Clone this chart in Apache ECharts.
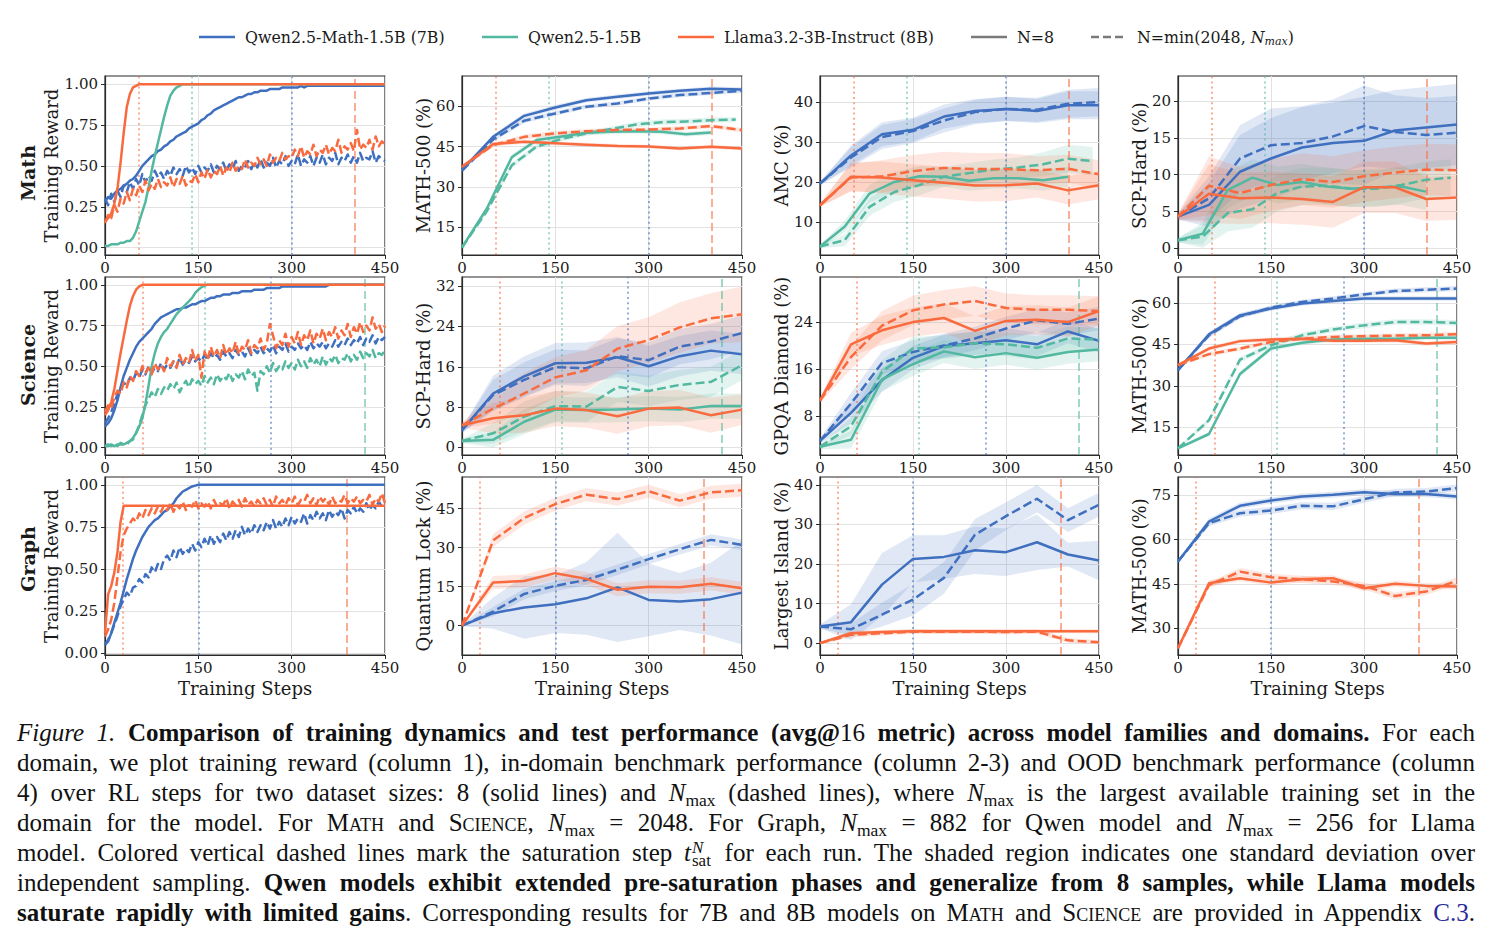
<!DOCTYPE html>
<html><head><meta charset="utf-8">
<script src="https://cdn.jsdelivr.net/npm/echarts@6/dist/echarts.min.js"></script>
<style>
html,body{margin:0;padding:0;background:#fff;width:1492px;height:943px;overflow:hidden}
#chart{position:absolute;left:0;top:0;width:1492px;height:705px}
#cap{position:absolute;left:17px;top:718px;width:1458px;font-family:'Liberation Serif','Times New Roman',serif;font-size:25px;color:#111}
#cap .l{height:30px;line-height:30px;white-space:nowrap}
#cap sub{font-size:0.7em;vertical-align:-0.28em;line-height:0}
.sc{font-variant:small-caps}
.ss{display:inline-block;white-space:pre-line;font-size:0.68em;line-height:0.8;vertical-align:-0.3em;text-align:left;margin-left:1px;margin-right:1px}
.ss::first-line{font-style:italic}
</style>
</head><body>
<div id="chart"></div>
<div id="cap">
<div class="l"><span><i>Figure 1.</i> <b>Comparison of training dynamics and test performance (avg@</b>16 <b>metric) across model families and domains.</b> For each</span></div>
<div class="l"><span>domain, we plot training reward (column 1), in-domain benchmark performance (column 2-3) and OOD benchmark performance (column</span></div>
<div class="l"><span>4) over RL steps for two dataset sizes: 8 (solid lines) and <i>N</i><sub>max</sub> (dashed lines), where <i>N</i><sub>max</sub> is the largest available training set in the</span></div>
<div class="l"><span>domain for the model. For <span class="sc">Math</span> and <span class="sc">Science</span>, <i>N</i><sub>max</sub> = 2048. For Graph, <i>N</i><sub>max</sub> = 882 for Qwen model and <i>N</i><sub>max</sub> = 256 for Llama</span></div>
<div class="l"><span>model. Colored vertical dashed lines mark the saturation step <i>t</i><span class="ss">N
sat</span> for each run. The shaded region indicates one standard deviation over</span></div>
<div class="l"><span>independent sampling. <b>Qwen models exhibit extended pre-saturation phases and generalize from 8 samples, while Llama models</b></span></div>
<div class="l"><span><b>saturate rapidly with limited gains</b>. Corresponding results for 7B and 8B models on <span class="sc">Math</span> and <span class="sc">Science</span> are provided in Appendix <span style="color:#2a2a9a">C.3</span>.</span></div>
</div>
<script>
// ---------------- DATA ----------------
const STEPS5 = [0,5,10,15,20,25,30,35,40,45,50,55,60,65,70,75,80,85,90,95,100,105,110,115,120,125,130,135,140,145,150,155,160,165,170,175,180,185,190,195,200,205,210,215,220,225,230,235,240,245,250,255,260,265,270,275,280,285,290,295,300,305,310,315,320,325,330,335,340,345,350,355,360,365,370,375,380,385,390,395,400,405,410,415,420,425,430,435,440,445,450];
const STEPS50 = [0,50,100,150,200,250,300,350,400,450];
const STEPS40 = [0,40,80,120,160,200,240,280,320,360,400,440];

// tick labels
const TICKS_REWARD = [0,0.25,0.5,0.75,1];
const TICKS_M5_A = [15,30,45,60];
const TICKS_AMC = [10,20,30,40];
const TICKS_SCP_A = [0,5,10,15,20];
const TICKS_SCP_B = [0,8,16,24,32];
const TICKS_GPQA = [8,16,24];
const TICKS_M5_B = [15,30,45,60];
const TICKS_QL = [0,15,30,45];
const TICKS_LI = [0,10,20,30,40];
const TICKS_M5_C = [30,45,60,75];
const TICKS_X = [0,150,300,450];

// ---- Math: training reward ----
const math_tr_qm8 = [0.28,0.31,0.30,0.33,0.35,0.36,0.38,0.39,0.41,0.42,
0.44,0.47,0.50,0.52,0.54,0.56,0.57,0.59,0.60,0.62,
0.63,0.65,0.66,0.68,0.69,0.70,0.71,0.73,0.74,0.75,
0.76,0.78,0.79,0.81,0.82,0.84,0.85,0.86,0.87,0.88,
0.89,0.90,0.91,0.92,0.92,0.93,0.94,0.94,0.95,0.95,
0.96,0.96,0.96,0.97,0.97,0.97,0.97,0.98,0.98,0.98,
0.98,0.98,0.98,0.99,0.98,0.99,0.99,0.99,0.99,0.99,
0.99,0.99,0.99,0.99,0.99,0.99,0.99,0.99,0.99,0.99,
0.99,0.99,0.99,0.99,0.99,0.99,0.99,0.99,0.99,0.99,
0.99];
const math_tr_qmN = [0.30,0.26,0.33,0.28,0.35,0.31,0.38,0.34,0.40,0.36,
0.42,0.38,0.45,0.40,0.44,0.41,0.47,0.43,0.46,0.42,
0.47,0.44,0.49,0.45,0.48,0.44,0.50,0.46,0.49,0.45,
0.50,0.46,0.49,0.47,0.51,0.46,0.50,0.48,0.52,0.47,
0.51,0.48,0.53,0.47,0.50,0.49,0.53,0.48,0.52,0.49,
0.54,0.49,0.52,0.50,0.55,0.49,0.53,0.51,0.56,0.50,
0.53,0.51,0.57,0.50,0.54,0.52,0.56,0.50,0.55,0.52,
0.57,0.51,0.55,0.53,0.58,0.51,0.55,0.53,0.57,0.52,
0.56,0.52,0.58,0.53,0.55,0.54,0.59,0.52,0.56,0.54,
0.53];
const math_tr_q8 = [0.01,0.01,0.02,0.02,0.02,0.03,0.03,0.04,0.04,0.06,
0.10,0.16,0.22,0.28,0.37,0.47,0.56,0.64,0.72,0.80,
0.87,0.93,0.96,0.98,0.99,1,1,1,1,1,
1,1,1,1,1,1,1,1,1,1,
1,1,1,1,1,1,1,1,1,1,
1,1,1,1,1,1,1,1,1,1,
1,1,1,1,1,1,1,1,1,1,
1,1,1,1,1,1,1,1,1,1,
1,1,1,1,1,1,1,1,1,1,
1];
const math_tr_l8 = [0.16,0.18,0.21,0.27,0.36,0.52,0.70,0.86,0.94,0.98,
0.99,1,1,1,1,1,1,1,1,1,
1,1,1,1,1,1,1,1,1,1,
1,1,1,1,1,1,1,1,1,1,
1,1,1,1,1,1,1,1,1,1,
1,1,1,1,1,1,1,1,1,1,
1,1,1,1,1,1,1,1,1,1,
1,1,1,1,1,1,1,1,1,1,
1,1,1,1,1,1,1,1,1,1,
1];
const math_tr_lN = [0.15,0.20,0.18,0.26,0.22,0.30,0.27,0.34,0.29,0.36,
0.32,0.38,0.34,0.41,0.35,0.39,0.36,0.42,0.37,0.40,
0.38,0.43,0.37,0.42,0.39,0.44,0.38,0.41,0.40,0.45,
0.40,0.46,0.42,0.48,0.43,0.47,0.45,0.50,0.44,0.49,
0.46,0.52,0.47,0.50,0.48,0.54,0.49,0.52,0.50,0.55,
0.51,0.54,0.50,0.57,0.52,0.55,0.53,0.58,0.54,0.56,
0.55,0.60,0.56,0.62,0.55,0.59,0.57,0.63,0.56,0.60,
0.58,0.63,0.57,0.61,0.59,0.66,0.58,0.62,0.60,0.64,
0.59,0.72,0.60,0.63,0.61,0.66,0.60,0.68,0.62,0.65,
0.63];

// ---- Math: MATH-500 ----
const m5a_qm8 = [36.3,48.6,56.4,59.5,62.2,63.5,64.7,65.7,66.5,66.2];
const m5a_qmN = [36.0,47.6,54.6,57.3,59.8,61.0,62.8,64.1,64.9,65.7];
const m5a_q8 = [7.5,22.0,41.0,47.4,48.7,50.1,50.5,50.7,50.5,49.6,50.2];
const m5a_qN = [7.5,21.0,38.0,45.0,47.8,49.9,51.5,53.2,54.0,54.3,54.8,55.0];
const m5a_l8 = [37.5,45.9,46.8,46.2,45.7,45.2,45.0,44.3,44.9,44.3];
const m5a_lN = [37.5,45.5,48.6,49.9,50.7,51.1,51.3,51.7,52.6,51.1];
const m5a_qm8_sd = [0.5,0.9,0.9,0.9,0.8,0.8,0.8,0.8,0.8,0.8];
const m5a_qmN_sd = [0.5,0.9,0.9,0.9,0.8,0.8,0.8,0.8,0.8,0.8];
const m5a_q8_sd = [0.4,0.9,1.0,1.0,0.9,0.9,0.9,0.9,0.9,0.9,0.9];
const m5a_qN_sd = [0.4,0.9,1.0,1.0,0.9,0.9,0.9,1.0,1.0,1.0,1.0,1.0];
const m5a_l8_sd = [0.5,0.8,0.8,0.7,0.7,0.7,0.7,0.7,0.7,0.7];
const m5a_lN_sd = [0.5,0.8,0.9,0.9,0.8,0.8,0.8,0.8,0.8,0.8];

// ---- Math: AMC ----
const amc_qm8 = [19.7,26.7,32.0,33.1,36.4,37.8,38.3,37.8,39.2,39.2];
const amc_qmN = [19.7,26.2,31.3,32.8,35.4,37.5,38.3,38.1,39.6,40.0];
const amc_q8 = [4.0,9.0,17.2,20.1,21.5,21.4,20.4,21.0,21.0,20.5,21.4];
const amc_qN = [4.0,5.6,13.9,17.6,19.3,21.4,22.3,23.2,23.7,24.5,25.9,25.3];
const amc_l8 = [14.3,21.4,21.2,20.5,19.9,19.2,19.3,19.7,18.0,19.3];
const amc_lN = [14.3,21.2,21.5,22.8,23.6,23.3,23.3,23.0,23.4,22.0];
const amc_qm8_sd = [0.4,2.5,3.0,3.0,3.0,3.0,3.0,3.0,3.5,3.5];
const amc_qmN_sd = [0.4,2.5,3.0,3.0,3.0,3.0,3.0,3.0,3.5,3.5];
const amc_q8_sd = [0.4,1.5,2.2,2.5,2.5,2.5,2.5,2.5,2.5,2.5,2.5];
const amc_qN_sd = [0.4,1.5,2.2,2.5,2.5,2.5,2.5,2.5,2.5,3.0,3.5,3.5];
const amc_l8_sd = [0.4,3.5,4.0,4.0,4.0,4.0,4.0,3.5,3.5,3.5];
const amc_lN_sd = [0.4,3.5,4.0,4.0,4.0,4.0,4.0,3.5,3.5,3.5];

// ---- Math: SCP-Hard ----
const scpa_qm8 = [4.3,5.9,10.4,12.2,13.7,14.3,14.6,16.0,16.4,16.8];
const scpa_qmN = [4.3,6.8,12.2,14.0,14.3,15.2,16.6,15.8,15.4,15.7];
const scpa_q8 = [1.1,2.0,7.9,9.6,8.6,9.0,8.4,8.1,8.3,8.4,7.7];
const scpa_qN = [1.1,1.6,4.8,5.3,7.5,8.4,8.5,8.1,8.1,8.6,9.3,9.6];
const scpa_l8 = [4.3,7.4,6.8,6.9,6.7,6.3,8.3,8.3,6.7,6.9];
const scpa_lN = [4.3,8.5,7.5,8.6,9.4,9.0,9.8,10.3,10.7,10.6];
const scpa_qm8_sd = [0.4,3.0,5.0,5.5,5.5,5.5,6.0,5.5,5.5,5.5];
const scpa_qmN_sd = [0.4,3.0,4.5,5.0,5.0,5.0,5.5,5.0,5.0,5.0];
const scpa_q8_sd = [0.3,1.5,2.5,2.5,2.5,2.5,2.5,2.5,2.5,2.5,2.5];
const scpa_qN_sd = [0.3,1.5,2.5,2.5,2.5,2.5,2.5,2.5,2.5,2.5,2.5,2.5];
const scpa_l8_sd = [0.4,4.0,3.5,3.5,3.5,3.5,3.5,3.5,3.0,3.0];
const scpa_lN_sd = [0.4,4.0,3.5,3.5,3.5,3.5,3.5,3.5,3.5,3.5];

// ---- Science: training reward ----
const sci_tr_qm8 = [0.13,0.15,0.18,0.23,0.29,0.37,0.44,0.49,0.54,0.58,
0.62,0.65,0.67,0.69,0.71,0.73,0.76,0.78,0.80,0.81,
0.82,0.83,0.84,0.85,0.85,0.86,0.86,0.87,0.88,0.88,
0.89,0.90,0.90,0.91,0.92,0.92,0.93,0.93,0.94,0.94,
0.94,0.95,0.95,0.95,0.96,0.96,0.96,0.96,0.97,0.97,
0.97,0.97,0.98,0.98,0.98,0.98,0.98,0.99,0.99,0.99,
0.99,0.99,0.99,0.99,0.99,0.99,0.99,0.99,0.99,0.99,
0.99,0.99,1,1,1,1,1,1,1,1,
1,1,1,1,1,1,1,1,1,1,
1];
const sci_tr_qmN = [0.15,0.18,0.22,0.27,0.33,0.36,0.40,0.38,0.43,0.41,
0.46,0.43,0.48,0.45,0.50,0.46,0.49,0.47,0.52,0.48,
0.51,0.49,0.53,0.50,0.55,0.51,0.54,0.52,0.56,0.53,
0.55,0.53,0.57,0.54,0.58,0.55,0.57,0.54,0.59,0.56,
0.58,0.55,0.60,0.57,0.59,0.56,0.61,0.57,0.60,0.58,
0.62,0.58,0.61,0.59,0.63,0.58,0.62,0.60,0.64,0.59,
0.62,0.60,0.64,0.61,0.63,0.60,0.65,0.61,0.64,0.62,
0.65,0.61,0.64,0.62,0.66,0.62,0.65,0.63,0.67,0.63,
0.66,0.64,0.68,0.63,0.67,0.65,0.69,0.64,0.68,0.66,
0.68];
const sci_tr_q8 = [0.01,0.01,0.02,0.01,0.02,0.02,0.02,0.03,0.04,0.06,
0.09,0.13,0.18,0.27,0.38,0.50,0.58,0.64,0.68,0.71,
0.73,0.76,0.79,0.82,0.84,0.86,0.88,0.90,0.92,0.95,
0.97,0.985,0.995,1,1,1,1,1,1,1,
1,1,1,1,1,1,1,1,1,1,
1,1,1,1,1,1,1,1,1,1,
1,1,1,1,1,1,1,1,1,1,
1,1,1,1,1,1,1,1,1,1,
1,1,1,1,1,1,1,1,1,1,
1];
const sci_tr_qN = [0.01,0.02,0.01,0.02,0.01,0.03,0.02,0.02,0.04,0.05,
0.09,0.14,0.20,0.26,0.30,0.34,0.31,0.36,0.33,0.37,
0.35,0.39,0.36,0.40,0.34,0.38,0.41,0.37,0.42,0.39,
0.41,0.38,0.44,0.40,0.43,0.39,0.45,0.41,0.44,0.42,
0.46,0.41,0.45,0.43,0.47,0.42,0.48,0.44,0.46,0.35,
0.47,0.45,0.50,0.46,0.52,0.47,0.50,0.48,0.53,0.49,
0.52,0.48,0.54,0.50,0.53,0.49,0.55,0.51,0.54,0.50,
0.56,0.51,0.55,0.53,0.57,0.52,0.55,0.54,0.58,0.53,
0.57,0.54,0.59,0.55,0.58,0.56,0.60,0.55,0.58,0.57,
0.60];
const sci_tr_l8 = [0.20,0.23,0.28,0.36,0.47,0.58,0.68,0.78,0.87,0.93,
0.97,0.99,1,1,1,1,1,1,1,1,
1,1,1,1,1,1,1,1,1,1,
1,1,1,1,1,1,1,1,1,1,
1,1,1,1,1,1,1,1,1,1,
1,1,1,1,1,1,1,1,1,1,
1,1,1,1,1,1,1,1,1,1,
1,1,1,1,1,1,1,1,1,1,
1,1,1,1,1,1,1,1,1,1,
1];
const sci_tr_lN = [0.22,0.26,0.24,0.31,0.35,0.33,0.40,0.37,0.44,0.41,
0.47,0.44,0.50,0.46,0.49,0.45,0.52,0.48,0.51,0.47,
0.55,0.50,0.53,0.49,0.57,0.51,0.55,0.52,0.60,0.53,
0.57,0.43,0.59,0.54,0.62,0.56,0.60,0.55,0.63,0.57,
0.61,0.58,0.65,0.57,0.62,0.60,0.66,0.58,0.63,0.61,
0.67,0.60,0.64,0.76,0.69,0.61,0.66,0.63,0.70,0.62,
0.68,0.64,0.71,0.63,0.69,0.66,0.72,0.64,0.70,0.67,
0.73,0.66,0.71,0.68,0.74,0.67,0.72,0.69,0.76,0.68,
0.74,0.70,0.77,0.71,0.75,0.72,0.80,0.73,0.76,0.71,
0.75];

// ---- Science: SCP-Hard ----
const scpb_qm8 = [3.4,10.7,14.1,16.7,16.8,17.9,16.1,18.1,19.2,18.5];
const scpb_qmN = [3.4,10.4,13.4,15.9,15.7,18.1,17.3,20.0,21.0,22.7];
const scpb_q8 = [1.3,1.5,5.1,7.5,7.4,7.5,7.7,7.5,8.2,8.2];
const scpb_qN = [1.3,2.8,6.1,8.2,8.1,12.0,11.2,12.4,13.0,16.3];
const scpb_l8 = [4.4,5.8,6.4,7.7,7.4,6.2,7.7,7.9,6.4,7.5];
const scpb_lN = [4.4,7.7,10.7,13.9,15.3,19.6,21.3,23.8,25.6,26.4];
const scpb_qm8_sd = [0.5,3.5,4.0,4.0,4.0,4.0,4.0,4.0,4.0,4.0];
const scpb_qmN_sd = [0.5,3.0,3.5,3.5,3.5,3.5,3.5,3.5,3.5,3.5];
const scpb_q8_sd = [0.4,1.5,2.5,2.5,2.5,2.5,2.5,2.5,2.5,2.5];
const scpb_qN_sd = [0.4,2.0,3.0,3.0,3.0,3.0,3.0,3.0,3.0,3.0];
const scpb_l8_sd = [0.5,3.0,3.5,3.5,3.5,3.5,3.5,3.5,3.5,3.0];
const scpb_lN_sd = [0.5,3.0,4.0,4.0,4.0,4.5,4.5,5.0,5.0,5.5];

// ---- Science: GPQA Diamond ----
const gpqa_qm8 = [3.7,8.5,14.1,17.9,19.9,20.4,20.9,20.2,22.4,20.8];
const gpqa_qmN = [3.7,10.1,17.0,18.9,20.0,21.2,22.9,24.3,23.7,24.6];
const gpqa_q8 = [2.7,3.9,14.2,16.8,19.0,18.0,18.7,17.9,18.9,19.3];
const gpqa_qN = [2.7,6.2,15.5,19.5,19.7,20.4,20.2,19.6,21.2,21.0];
const gpqa_l8 = [10.6,20.2,22.6,24.0,24.7,22.5,24.2,24.4,24.0,25.9];
const gpqa_lN = [10.6,18.0,23.4,26.0,27.0,27.6,26.4,26.1,26.1,25.9];
const gpqa_qm8_sd = [0.4,1.8,2.0,2.0,2.0,2.0,2.0,2.0,2.0,2.0];
const gpqa_qmN_sd = [0.4,1.8,2.0,2.0,2.0,2.0,2.0,2.0,2.0,2.0];
const gpqa_q8_sd = [0.4,1.5,2.0,2.0,2.0,2.0,2.0,2.0,2.0,2.0];
const gpqa_qN_sd = [0.4,1.5,2.0,2.0,2.0,2.0,2.0,2.0,2.0,2.0];
const gpqa_l8_sd = [0.4,2.0,2.5,2.5,2.5,2.5,2.5,2.5,2.5,2.5];
const gpqa_lN_sd = [0.4,2.0,2.5,2.5,2.5,2.5,2.5,2.5,2.5,2.5];

// ---- Science: MATH-500 ----
const m5b_qm8 = [35.7,48.7,55.5,58.0,59.8,60.7,61.6,61.6,61.6,61.6];
const m5b_qmN = [35.7,48.3,55.2,58.3,60.4,61.6,63.1,64.3,64.8,65.2];
const m5b_q8 = [7.4,12.6,34.3,43.5,45.6,46.8,47.1,47.1,47.4,47.4];
const m5b_qN = [7.4,17.6,39.5,44.7,48.3,50.4,51.9,53.1,53.1,52.8];
const m5b_l8 = [37.5,43.5,46.2,46.8,47.1,46.3,46.3,46.5,45.3,45.9];
const m5b_lN = [37.5,41.5,43.5,45.9,47.1,47.7,48.0,48.2,48.3,48.7];
const m5b_qm8_sd = [0.5,0.9,0.9,0.8,0.8,0.8,0.8,0.8,0.8,0.8];
const m5b_qmN_sd = [0.5,0.9,0.9,0.8,0.8,0.8,0.8,0.9,0.9,0.9];
const m5b_q8_sd = [0.4,0.8,1.0,0.9,0.8,0.8,0.8,0.8,0.8,0.8];
const m5b_qN_sd = [0.4,1.0,1.0,1.0,1.0,1.0,1.0,1.0,1.0,1.0];
const m5b_l8_sd = [0.5,0.8,0.8,0.8,0.8,0.8,0.8,0.8,0.8,0.8];
const m5b_lN_sd = [0.5,0.8,0.8,0.8,0.8,0.8,0.8,0.8,0.9,0.9];

// ---- Graph: training reward ----
const graph_tr_qm8 = [0.05,0.07,0.12,0.18,0.24,0.30,0.37,0.44,0.50,0.56,
0.61,0.65,0.69,0.72,0.75,0.77,0.79,0.80,0.82,0.84,
0.85,0.87,0.89,0.92,0.94,0.96,0.97,0.98,0.99,0.995,
1,1,1,1,1,1,1,1,1,1,
1,1,1,1,1,1,1,1,1,1,
1,1,1,1,1,1,1,1,1,1,
1,1,1,1,1,1,1,1,1,1,
1,1,1,1,1,1,1,1,1,1,
1,1,1,1,1,1,1,1,1,1,
1];
const graph_tr_qmN = [0.05,0.08,0.12,0.17,0.22,0.28,0.32,0.36,0.34,0.39,
0.40,0.44,0.42,0.47,0.45,0.51,0.48,0.53,0.50,0.56,
0.58,0.55,0.61,0.57,0.63,0.59,0.62,0.60,0.65,0.61,
0.66,0.63,0.68,0.64,0.70,0.65,0.69,0.66,0.71,0.67,
0.72,0.68,0.73,0.69,0.75,0.70,0.74,0.71,0.76,0.72,
0.76,0.73,0.78,0.74,0.79,0.74,0.78,0.75,0.80,0.76,
0.81,0.77,0.80,0.78,0.83,0.77,0.82,0.79,0.84,0.80,
0.83,0.79,0.85,0.81,0.84,0.82,0.86,0.80,0.85,0.83,
0.87,0.83,0.86,0.84,0.89,0.85,0.88,0.86,0.90,0.87,
0.88];
const graph_tr_l8 = [0.12,0.35,0.40,0.48,0.60,0.78,0.875,0.875,0.875,0.875,
0.875,0.875,0.875,0.875,0.875,0.875,0.875,0.875,0.875,0.875,
0.875,0.875,0.875,0.875,0.875,0.875,0.875,0.875,0.875,0.875,
0.875,0.875,0.875,0.875,0.875,0.875,0.875,0.875,0.875,0.875,
0.875,0.875,0.875,0.875,0.875,0.875,0.875,0.875,0.875,0.875,
0.875,0.875,0.875,0.875,0.875,0.875,0.875,0.875,0.875,0.875,
0.875,0.875,0.875,0.875,0.875,0.875,0.875,0.875,0.875,0.875,
0.875,0.875,0.875,0.875,0.875,0.875,0.875,0.875,0.875,0.875,
0.875,0.875,0.875,0.875,0.875,0.875,0.875,0.875,0.875,0.875,
0.875];
const graph_tr_lN = [0.10,0.14,0.20,0.30,0.45,0.60,0.70,0.74,0.77,0.80,
0.78,0.83,0.80,0.85,0.82,0.86,0.83,0.87,0.84,0.88,
0.85,0.89,0.84,0.88,0.86,0.90,0.85,0.88,0.87,0.91,
0.86,0.89,0.87,0.90,0.86,0.91,0.87,0.89,0.88,0.92,
0.86,0.90,0.88,0.91,0.87,0.92,0.88,0.90,0.87,0.91,
0.89,0.92,0.88,0.91,0.87,0.93,0.89,0.91,0.88,0.92,
0.89,0.93,0.88,0.91,0.90,0.94,0.89,0.92,0.88,0.93,
0.90,0.92,0.88,0.93,0.89,0.91,0.90,0.94,0.89,0.92,
0.90,0.93,0.89,0.91,0.90,0.94,0.88,0.92,0.90,0.95,
0.89];

// ---- Graph: Quantum Lock ----
const ql_qm8 = [0,4.8,7.0,8.2,10.5,14.7,9.9,9.3,10.2,12.7];
const ql_qmN = [0,5.4,12.2,15.3,17.6,21.5,25.6,29.4,33.0,31.1];
const ql_l8 = [0,16.6,17.2,20.2,18.0,13.8,15.0,14.8,16.1,14.4];
const ql_lN = [0,32.8,41.4,46.8,50.4,48.7,51.7,48.1,51.3,52.1];
const ql_qm8_sd = [0.2,6,12,11,14,21,14,11,14,20];
const ql_qmN_sd = [0.2,1.8,2,2,2,2,2,2,2.2,2];
const ql_l8_sd = [0.2,2.5,2.5,2.5,2.5,2.5,2.5,2.5,2.5,2.5];
const ql_lN_sd = [0.2,2.5,2.5,2.5,2.5,2.5,2.5,2.5,2.5,2.5];

// ---- Graph: Largest Island ----
const li_qm8 = [4.2,5.3,14.8,21.3,21.8,23.5,23.0,25.5,22.4,20.9];
const li_qmN = [4.2,3.5,7.2,11.0,16.5,27.4,32.1,36.5,31.1,35.0];
const li_l8 = [0,2.5,2.8,3.0,3.0,3.0,3.0,3.0,3.0,3.0];
const li_lN = [0,2.1,2.5,2.9,2.9,2.9,2.8,2.9,0.7,0.2];
const li_qm8_sd = [0.5,4.5,8,6,5.5,6,6,7,3,5];
const li_qmN_sd = [0.5,1.5,3,4,4,4,3.5,3.5,3,3];
const li_l8_sd = [0.3,0.6,0.5,0.5,0.5,0.5,0.5,0.5,0.5,0.5];
const li_lN_sd = [0.3,0.7,0.6,0.6,0.6,0.6,0.6,0.6,0.6,0.5];

// ---- Graph: MATH-500 ----
const m5c_qm8 = [52.5,66.0,71.3,73.1,74.4,75.0,75.9,75.3,75.3,74.4];
const m5c_qmN = [52.5,65.4,68.8,69.7,71.3,71.1,73.5,75.8,76.1,77.3];
const m5c_l8 = [23.3,45.2,46.9,45.4,46.5,46.9,43.5,45.0,44.3,44.1];
const m5c_lN = [23.3,44.6,49.1,47.2,46.5,45.8,44.3,40.9,42.4,46.0];
const m5c_qm8_sd = [0.6,1.0,1.0,1.0,1.0,1.0,1.0,1.0,1.0,1.0];
const m5c_qmN_sd = [0.6,1.0,1.2,1.2,1.2,1.2,1.2,1.2,1.2,1.2];
const m5c_l8_sd = [0.6,1.0,1.0,1.0,1.0,1.0,1.0,1.0,1.0,1.0];
const m5c_lN_sd = [0.6,1.0,1.2,1.2,1.2,1.2,1.2,1.2,1.2,1.2];

// saturation steps (model, kind)
const sat_math_step = [55,140,300,402];
const sat_math_model = ['l','q','qm','l'];
const sat_math_kind = ['n8','n8','n8','nmax'];
const sat_sci_step = [60,160,267,418];
const sat_sci_model = ['l','q','qm','q'];
const sat_sci_kind = ['n8','n8','n8','nmax'];
const sat_graph_step = [28,150,388];
const sat_graph_model = ['l','qm','l'];
const sat_graph_kind = ['n8','n8','nmax'];

// ---------------- STYLE / LAYOUT ----------------
const COL = {qm:[63,111,191], q:[82,184,159], l:[249,106,62]};
const rgba = (m,a)=>`rgba(${COL[m][0]},${COL[m][1]},${COL[m][2]},${a})`;
const FONT = "'DejaVu Serif', serif";
const TXT = '#1a1a1a';
const AX = '#2b2b2b';
const GX = [105,462,820,1178], GW = [280,280,279,279];
const GY = [76,277,477], GH = [179,178,178];

const L = (m,d,x,y,sd)=>({m,d,x,y,sd});
const sat = (s,m,k)=>s.map((v,i)=>({x:v,m:m[i],k:k[i]}));
const SAT = [sat(sat_math_step,sat_math_model,sat_math_kind), sat(sat_sci_step,sat_sci_model,sat_sci_kind), sat(sat_graph_step,sat_graph_model,sat_graph_kind)];

const PANELS = [
 {name:'Training Reward', min:-0.045, max:1.05, ticks:TICKS_REWARD, dec:2, lines:[L('qm',0,STEPS5,math_tr_qm8),L('qm',1,STEPS5,math_tr_qmN),L('q',0,STEPS5,math_tr_q8),L('l',0,STEPS5,math_tr_l8),L('l',1,STEPS5,math_tr_lN)]},
 {name:'MATH-500 (%)', min:4.7, max:71.2, ticks:TICKS_M5_A, lines:[L('qm',0,STEPS50,m5a_qm8,m5a_qm8_sd),L('qm',1,STEPS50,m5a_qmN,m5a_qmN_sd),L('q',0,STEPS40,m5a_q8,m5a_q8_sd),L('q',1,STEPS40,m5a_qN,m5a_qN_sd),L('l',0,STEPS50,m5a_l8,m5a_l8_sd),L('l',1,STEPS50,m5a_lN,m5a_lN_sd)]},
 {name:'AMC (%)', min:1.9, max:46.5, ticks:TICKS_AMC, lines:[L('qm',0,STEPS50,amc_qm8,amc_qm8_sd),L('qm',1,STEPS50,amc_qmN,amc_qmN_sd),L('q',0,STEPS40,amc_q8,amc_q8_sd),L('q',1,STEPS40,amc_qN,amc_qN_sd),L('l',0,STEPS50,amc_l8,amc_l8_sd),L('l',1,STEPS50,amc_lN,amc_lN_sd)]},
 {name:'SCP-Hard (%)', min:-0.9, max:23.4, ticks:TICKS_SCP_A, lines:[L('qm',0,STEPS50,scpa_qm8,scpa_qm8_sd),L('qm',1,STEPS50,scpa_qmN,scpa_qmN_sd),L('q',0,STEPS40,scpa_q8,scpa_q8_sd),L('q',1,STEPS40,scpa_qN,scpa_qN_sd),L('l',0,STEPS50,scpa_l8,scpa_l8_sd),L('l',1,STEPS50,scpa_lN,scpa_lN_sd)]},
 {name:'Training Reward', min:-0.045, max:1.048, ticks:TICKS_REWARD, dec:2, lines:[L('qm',0,STEPS5,sci_tr_qm8),L('qm',1,STEPS5,sci_tr_qmN),L('q',0,STEPS5,sci_tr_q8),L('q',1,STEPS5,sci_tr_qN),L('l',0,STEPS5,sci_tr_l8),L('l',1,STEPS5,sci_tr_lN)]},
 {name:'SCP-Hard (%)', min:-1.5, max:33.8, ticks:TICKS_SCP_B, lines:[L('qm',0,STEPS50,scpb_qm8,scpb_qm8_sd),L('qm',1,STEPS50,scpb_qmN,scpb_qmN_sd),L('q',0,STEPS50,scpb_q8,scpb_q8_sd),L('q',1,STEPS50,scpb_qN,scpb_qN_sd),L('l',0,STEPS50,scpb_l8,scpb_l8_sd),L('l',1,STEPS50,scpb_lN,scpb_lN_sd)]},
 {name:'GPQA Diamond (%)', min:1.3, max:31.7, ticks:TICKS_GPQA, lines:[L('qm',0,STEPS50,gpqa_qm8,gpqa_qm8_sd),L('qm',1,STEPS50,gpqa_qmN,gpqa_qmN_sd),L('q',0,STEPS50,gpqa_q8,gpqa_q8_sd),L('q',1,STEPS50,gpqa_qN,gpqa_qN_sd),L('l',0,STEPS50,gpqa_l8,gpqa_l8_sd),L('l',1,STEPS50,gpqa_lN,gpqa_lN_sd)]},
 {name:'MATH-500 (%)', min:5, max:69.4, ticks:TICKS_M5_B, lines:[L('qm',0,STEPS50,m5b_qm8,m5b_qm8_sd),L('qm',1,STEPS50,m5b_qmN,m5b_qmN_sd),L('q',0,STEPS50,m5b_q8,m5b_q8_sd),L('q',1,STEPS50,m5b_qN,m5b_qN_sd),L('l',0,STEPS50,m5b_l8,m5b_l8_sd),L('l',1,STEPS50,m5b_lN,m5b_lN_sd)]},
 {name:'Training Reward', min:-0.01, max:1.046, ticks:TICKS_REWARD, dec:2, lines:[L('qm',0,STEPS5,graph_tr_qm8),L('qm',1,STEPS5,graph_tr_qmN),L('l',0,STEPS5,graph_tr_l8),L('l',1,STEPS5,graph_tr_lN)]},
 {name:'Quantum Lock (%)', min:-11.3, max:57.2, ticks:TICKS_QL, lines:[L('qm',0,STEPS50,ql_qm8,ql_qm8_sd),L('qm',1,STEPS50,ql_qmN,ql_qmN_sd),L('l',0,STEPS50,ql_l8,ql_l8_sd),L('l',1,STEPS50,ql_lN,ql_lN_sd)]},
 {name:'Largest Island (%)', min:-3, max:42, ticks:TICKS_LI, lines:[L('qm',0,STEPS50,li_qm8,li_qm8_sd),L('qm',1,STEPS50,li_qmN,li_qmN_sd),L('l',0,STEPS50,li_l8,li_l8_sd),L('l',1,STEPS50,li_lN,li_lN_sd)]},
 {name:'MATH-500 (%)', min:21, max:81, ticks:TICKS_M5_C, lines:[L('qm',0,STEPS50,m5c_qm8,m5c_qm8_sd),L('qm',1,STEPS50,m5c_qmN,m5c_qmN_sd),L('l',0,STEPS50,m5c_l8,m5c_l8_sd),L('l',1,STEPS50,m5c_lN,m5c_lN_sd)]}
];

const grids=[], xAxes=[], yAxes=[], series=[];
PANELS.forEach((p,i)=>{
  const r=Math.floor(i/4), c=i%4;
  grids.push({left:GX[c], top:GY[r], width:GW[c], height:GH[r], show:true, borderColor:AX, borderWidth:1.2, backgroundColor:'transparent', containLabel:false, outerBoundsMode:'none'});
  xAxes.push({type:'value', gridIndex:i, min:TICKS_X[0], max:TICKS_X[TICKS_X.length-1], interval:150,
    name: r===2?'Training Steps':'', nameLocation:'middle', nameGap:24,
    nameTextStyle:{fontFamily:FONT,fontSize:18,color:TXT},
    axisLine:{show:true,onZero:false,lineStyle:{color:AX,width:1.2}},
    axisTick:{show:true,length:4,lineStyle:{color:AX,width:1}},
    axisLabel:{show:true,fontFamily:FONT,fontSize:15,color:TXT,margin:5,showMinLabel:true,showMaxLabel:true},
    splitLine:{show:true,lineStyle:{color:'#e2e2e2',width:1}}});
  yAxes.push({type:'value', gridIndex:i, min:p.min, max:p.max,
    name:p.name, nameLocation:'middle', nameRotate:90, nameGap: c===0?40:27,
    nameTextStyle:{fontFamily:FONT,fontSize:18,color:TXT},
    axisLine:{show:true,onZero:false,lineStyle:{color:AX,width:1.2}},
    axisTick:{show:true,length:4,customValues:p.ticks,lineStyle:{color:AX,width:1}},
    axisLabel:{show:true,customValues:p.ticks,fontFamily:FONT,fontSize:15,color:TXT,margin:7,
      formatter:(v)=>p.dec?Number(v).toFixed(2):String(Math.round(v))},
    splitLine:{show:true,customValues:p.ticks,lineStyle:{color:'#e2e2e2',width:1}}});
  // bands
  p.lines.forEach(ln=>{
    if(!ln.sd) return;
    series.push({type:'custom', xAxisIndex:i, yAxisIndex:i, silent:true, clip:true, z:1, animation:false,
      data:[[ln.x[0], ln.y[0]]],
      renderItem:(params, api)=>{
        const up = ln.y.map((v,k)=>api.coord([ln.x[k], v+ln.sd[k]]));
        const lo = ln.y.map((v,k)=>api.coord([ln.x[k], v-ln.sd[k]])).reverse();
        return {type:'polygon', shape:{points:up.concat(lo)}, style:{fill:rgba(ln.m,0.16)}};
      }});
  });
  // lines
  p.lines.forEach((ln,k)=>{
    const s = {type:'line', xAxisIndex:i, yAxisIndex:i, silent:true, animation:false, z:3,
      showSymbol:false, symbol:'none', smooth:false,
      data: ln.y.map((v,j)=>[ln.x[j], v]),
      lineStyle:{color:rgba(ln.m,1), width:2.5, type: ln.d?[9,4]:'solid', cap:'butt', join:'round'}};
    if(k===0){
      s.markLine = {silent:true, symbol:['none','none'], animation:false, label:{show:false}, z:2,
        data: SAT[r].map(sv=>({xAxis:sv.x, lineStyle:{color:rgba(sv.m,0.55), width:2, type: sv.k==='n8'?[2,3.2]:[8,4]}}))};
    }
    series.push(s);
  });
});

// legend & row labels (graphic)
const LEG = [
  {m:'qm', d:false, t:'Qwen2.5-Math-1.5B (7B)', x:245},
  {m:'q', d:false, t:'Qwen2.5-1.5B', x:528},
  {m:'l', d:false, t:'Llama3.2-3B-Instruct (8B)', x:724},
  {m:null, d:false, t:'N=8', x:1017},
  {m:null, d:true, t:'{a|N=min(2048, }{i|N}{s|max}{a|)}', x:1137}
];
const ROWS = [{t:'Math', y:173},{t:'Science', y:365},{t:'Graph', y:559}];
const graphic = [];
LEG.forEach(g=>{
  graphic.push({type:'line', shape:{x1:g.x-46, y1:37, x2:g.x-10, y2:37},
    style:{stroke: g.m?rgba(g.m,1):'#7a7a7a', lineWidth:2.5, lineDash: g.d?[8,4]:null}});
  graphic.push({type:'text', x:g.x, y:37, style:{text:g.t, fontFamily:FONT, fontSize:15.8, fill:TXT, verticalAlign:'middle', align:'left',
    rich:{a:{fontFamily:FONT,fontSize:15.8,fill:TXT}, i:{fontFamily:FONT,fontSize:15.8,fontStyle:'italic',fill:TXT}, s:{fontFamily:FONT,fontSize:11,fontStyle:'italic',fill:TXT,padding:[8,0,0,0]}}}});
});
ROWS.forEach(rw=>{
  graphic.push({type:'text', x:28, y:rw.y, rotation:Math.PI/2,
    style:{text:rw.t, fontFamily:FONT, fontSize:19, fontWeight:'bold', fill:TXT, align:'center', verticalAlign:'middle'}});
});

const chart = echarts.init(document.getElementById('chart'), null, {renderer:'svg'});
chart.setOption({animation:false, backgroundColor:'#fff', grid:grids, xAxis:xAxes, yAxis:yAxes, series, graphic});

// justify caption lines
document.querySelectorAll('#cap .l > span').forEach(sp=>{
  const w = sp.getBoundingClientRect().width;
  const n = (sp.textContent.match(/ /g)||[]).length;
  if(n>0) sp.style.wordSpacing = ((1458 - w)/n) + 'px';
});
</script>
</body></html>
